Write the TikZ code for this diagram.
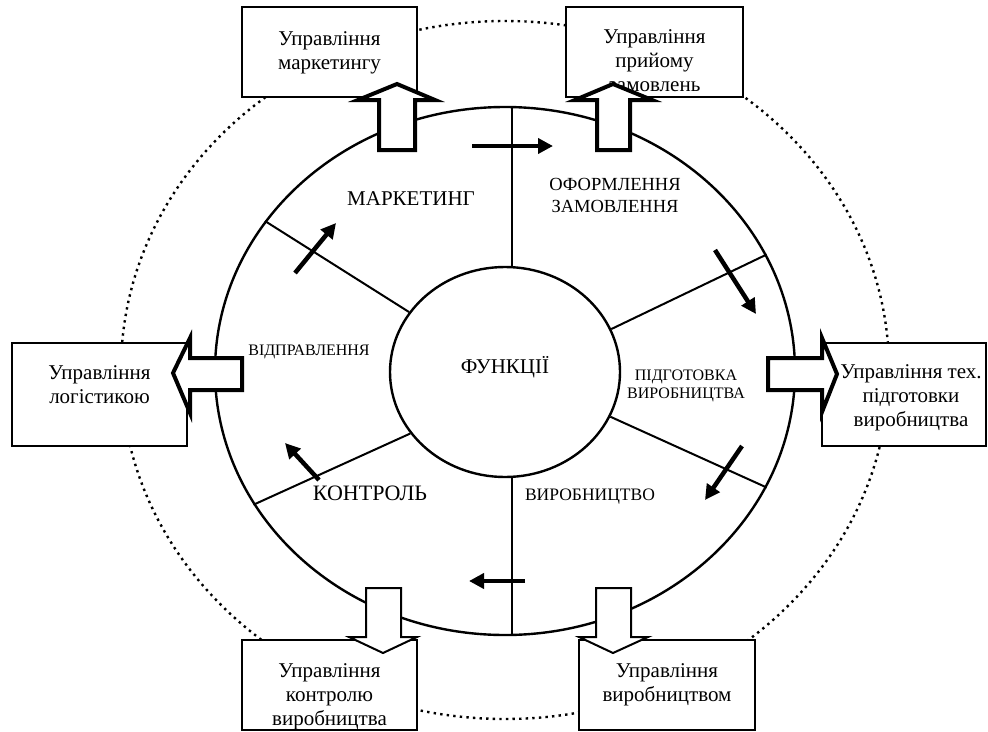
\documentclass[tikz,border=0pt]{standalone}
\usepackage{fontspec}
\setmainfont{Liberation Serif}
\usetikzlibrary{shapes.geometric,arrows.meta}
% lines stacked from the top, the first baseline being the anchor
\newcommand{\topstack}[1]{\begin{tabular}[t]{@{}c@{}}#1\end{tabular}}

\begin{document}
\begin{tikzpicture}[x=1pt,y=-1pt,
  ring/.style={ellipse, draw, line width=2.4pt, inner sep=0pt},
  dots/.style={ellipse, draw, line width=2.4pt, dash pattern=on 2.4pt off 4.2pt, inner sep=0pt},
  spoke/.style={line width=2pt},
  flow/.style={line width=4.5pt, -{Triangle[length=15pt,width=15pt]}},
  box/.style={draw, line width=2pt, fill=white, inner sep=0pt},
  boxtext/.style={font=\fontsize{21}{24}\selectfont, anchor=base, inner sep=0pt},
  big/.style={font=\fontsize{21}{24}\selectfont, anchor=base, inner sep=0pt},
  small/.style={font=\fontsize{16}{18}\selectfont, anchor=base, inner sep=0pt},
  fatarrow/.style={draw, fill=white, line width=4pt, line join=miter},
  thinarrow/.style={draw, fill=white, line width=2pt, line join=miter}]
\useasboundingbox (0,0) rectangle (988,731);

% dotted outer ring
\node[dots, minimum width=768pt, minimum height=698pt] (zone) at (505,370) {};

% management boxes
\node[box, minimum width=175pt, minimum height=90pt]  (bMark) at (329.5,52) {};
\node[box, minimum width=177pt, minimum height=90pt]  (bOrder) at (654.5,52) {};
\node[box, minimum width=175pt, minimum height=103pt] (bLog) at (99.5,394.5) {};
\node[box, minimum width=164pt, minimum height=103pt] (bTech) at (904,394.5) {};
\node[box, minimum width=175pt, minimum height=90pt]  (bCtrl) at (329.5,685) {};
\node[box, minimum width=176pt, minimum height=90pt]  (bProd) at (667,685) {};

\node[boxtext] (tMark) at (329.5,45) {\topstack{Управління\\маркетингу}};
\node[boxtext] (tOrder) at (654.5,43) {\topstack{Управління\\прийому\\замовлень}};
\node[boxtext] (tLog) at (99.5,379) {\topstack{Управління\\логістикою}};
\node[boxtext] (tTech) at (911,378) {\topstack{Управління тех.\\підготовки\\виробництва}};
\node[boxtext] (tCtrl) at (329.5,677) {\topstack{Управління\\контролю\\виробництва}};
\node[boxtext] (tProd) at (667,677) {\topstack{Управління\\виробництвом}};

% function wheel
\node[ring, minimum width=580pt, minimum height=528pt] (outer) at (505,371) {};
\node[ring, minimum width=230pt, minimum height=210pt] (inner) at (505,372) {};

\draw[spoke] (inner.north -| 512,0) -- (outer.north -| 512,0);
\draw[spoke] (inner.south -| 512,0) -- (outer.south -| 512,0);
\draw[spoke] (inner.22.7) -- (outer.24);
\draw[spoke] (inner.-23.9) -- (outer.-24.2);
\draw[spoke] (inner.213) -- (outer.208);
\draw[spoke] (inner.148) -- (outer.148);

% labels
\node[big] (fun) at (505,373) {ФУНКЦІЇ};
\node[big] (lMark) at (411,205) {МАРКЕТИНГ};
\node[small, font=\fontsize{18.5}{22}\selectfont] (lOrder) at (615,190) {\topstack{ОФОРМЛЕННЯ\\ЗАМОВЛЕННЯ}};
\node[small] (lPrep) at (686,380) {\topstack{ПІДГОТОВКА\\ВИРОБНИЦТВА}};
\node[big, font=\fontsize{17.5}{20}\selectfont] (lProd) at (590,500) {ВИРОБНИЦТВО};
\node[big, font=\fontsize{22}{24}\selectfont] (lCtrl) at (370,500) {КОНТРОЛЬ};
\node[small] (lShip) at (309,355) {ВІДПРАВЛЕННЯ};

% direction of the cycle
\coordinate (f1a) at (472,146);  \coordinate (f1b) at (553,146);
\coordinate (f2a) at (715,250);  \coordinate (f2b) at (756,314);
\coordinate (f3a) at (742,446);  \coordinate (f3b) at (705,500);
\coordinate (f4a) at (525,581);  \coordinate (f4b) at (469,581);
\coordinate (f5a) at (319,480);  \coordinate (f5b) at (285,443);
\coordinate (f6a) at (295,273);  \coordinate (f6b) at (336,223);
\draw[flow] (f1a) -- (f1b);
\draw[flow] (f2a) -- (f2b);
\draw[flow] (f3a) -- (f3b);
\draw[flow] (f4a) -- (f4b);
\draw[flow] (f5a) -- (f5b);
\draw[flow] (f6a) -- (f6b);

% block arrows towards the management boxes
\draw[fatarrow] (379,150) -- (379,100) -- (358,100) -- (397,84) -- (435,100) -- (415,100) -- (415,150) -- cycle;
\draw[fatarrow] (597,150) -- (597,100) -- (575,100) -- (613,84) -- (652,100) -- (630,100) -- (630,150) -- cycle;
\draw[fatarrow] (242,358) -- (190,358) -- (190,338) -- (173,373) -- (190,413) -- (190,390) -- (242,390) -- cycle;
\draw[fatarrow] (768,358) -- (822,358) -- (822,338) -- (837,374) -- (822,412) -- (822,390) -- (768,390) -- cycle;
\draw[thinarrow] (366,588) -- (401,588) -- (401,637) -- (417,637) -- (383,653) -- (349,637) -- (366,637) -- cycle;
\draw[thinarrow] (596,588) -- (631,588) -- (631,637) -- (648,637) -- (613,653) -- (579,637) -- (596,637) -- cycle;
\end{tikzpicture}
\end{document}
